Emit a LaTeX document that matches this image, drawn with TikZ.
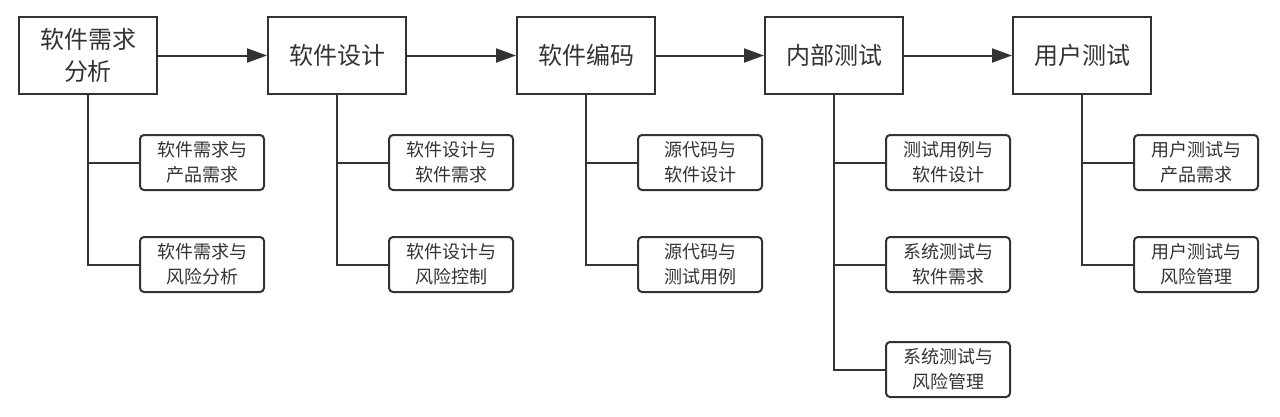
\documentclass[tikz,border=0pt]{standalone}
\usepackage{fontspec}
\setmainfont{Noto Sans CJK SC}
\usetikzlibrary{arrows.meta}
\definecolor{ln}{HTML}{333333}
\begin{document}
\begin{tikzpicture}[x=1pt,y=-1pt,
  mainbox/.style={draw=ln,line width=2pt,fill=white,minimum width=138pt,minimum height=77pt,align=center,inner sep=0pt,text=ln,font=\fontsize{24}{32}\selectfont},
  subbox/.style={draw=ln,line width=2pt,fill=white,rounded corners=4pt,minimum width=124pt,minimum height=55pt,align=center,inner sep=0pt,text=ln,font=\fontsize{18}{25}\selectfont},
  flow/.style={draw=ln,line width=2pt,-{Triangle[length=20pt,width=14pt]}},
  tree/.style={draw=ln,line width=2pt}]
\useasboundingbox (0,0) rectangle (1280,416);
\node[mainbox] (m1) at (88,55.5) {软件需求\\分析};
\node[mainbox] (m2) at (337,55.5) {软件设计};
\node[mainbox] (m3) at (586,55.5) {软件编码};
\node[mainbox] (m4) at (834,55.5) {内部测试};
\node[mainbox] (m5) at (1082,55.5) {用户测试};
\node[subbox] (s1a) at (202,162.5) {软件需求与\\产品需求};
\node[subbox] (s1b) at (202,264.5) {软件需求与\\风险分析};
\node[subbox] (s2a) at (451,162.5) {软件设计与\\软件需求};
\node[subbox] (s2b) at (451,264.5) {软件设计与\\风险控制};
\node[subbox] (s3a) at (700,162.5) {源代码与\\软件设计};
\node[subbox] (s3b) at (700,264.5) {源代码与\\测试用例};
\node[subbox] (s4a) at (948,162.5) {测试用例与\\软件设计};
\node[subbox] (s4b) at (948,264.5) {系统测试与\\软件需求};
\node[subbox] (s4c) at (948,369.5) {系统测试与\\风险管理};
\node[subbox] (s5a) at (1196,162.5) {用户测试与\\产品需求};
\node[subbox] (s5b) at (1196,264.5) {用户测试与\\风险管理};
\draw[flow] (m1) -- (m2);
\draw[flow] (m2) -- (m3);
\draw[flow] (m3) -- (m4);
\draw[flow] (m4) -- (m5);
\draw[tree] (m1.south) |- (s1b.west) (m1.south) |- (s1a.west);
\draw[tree] (m2.south) |- (s2b.west) (m2.south) |- (s2a.west);
\draw[tree] (m3.south) |- (s3b.west) (m3.south) |- (s3a.west);
\draw[tree] (m4.south) |- (s4c.west) (m4.south) |- (s4b.west) (m4.south) |- (s4a.west);
\draw[tree] (m5.south) |- (s5b.west) (m5.south) |- (s5a.west);
\end{tikzpicture}
\end{document}
